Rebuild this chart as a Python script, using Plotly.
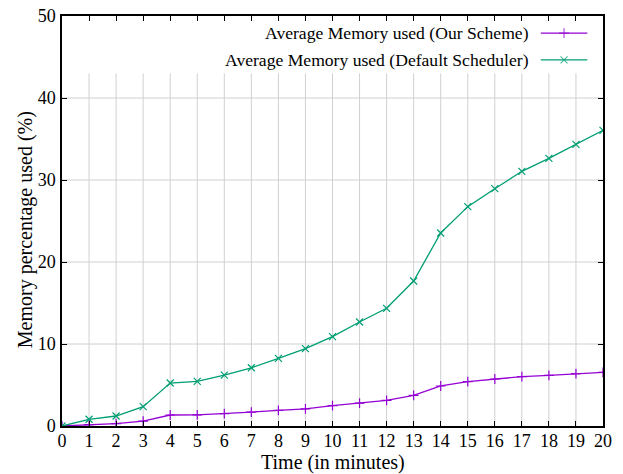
import plotly.graph_objects as go

# Elapsed time in minutes
minutes = list(range(0, 21))

# Average memory usage (%) for each scheduler
our_scheme = [0.0, 0.16, 0.3, 0.6, 1.34, 1.35, 1.5, 1.7, 1.9, 2.1, 2.48,
              2.8, 3.13, 3.74, 4.88, 5.41, 5.73, 6.02, 6.18, 6.38, 6.54]
default_scheduler = [0.0, 0.82, 1.22, 2.36, 5.24, 5.45, 6.2, 7.1, 8.25, 9.43, 10.9,
                     12.68, 14.35, 17.68, 23.54, 26.75, 28.94, 31.06, 32.64, 34.35, 36.06]

series_names = ["Average Memory used (Our Scheme)",
                "Average Memory used (Default Scheduler)"]

y_ticks = [0, 10, 20, 30, 40, 50]

PURPLE = "#9400d3"
TEAL = "#009e73"
GRID = "#d0d0d0"
FONT = "Liberation Serif"
KEY_BOTTOM = 43.0  # grid stops below the key area

fig = go.Figure()

fig.add_trace(go.Scatter(
    x=minutes, y=our_scheme, mode="lines+markers", name=series_names[0],
    line=dict(color=PURPLE, width=1.3),
    marker=dict(symbol="cross-thin", size=7, line=dict(color=PURPLE, width=1.2)),
    showlegend=False,
))
fig.add_trace(go.Scatter(
    x=minutes, y=default_scheduler, mode="lines+markers", name=series_names[1],
    line=dict(color=TEAL, width=1.3),
    marker=dict(symbol="x-thin", size=7, line=dict(color=TEAL, width=1.2)),
    showlegend=False,
))

# Key drawn in plot-fraction coordinates on an overlay axis pair
key_rows = [(0.958, PURPLE, "cross-thin"), (0.893, TEAL, "x-thin")]
for (ky, col, sym), label in zip(key_rows, series_names):
    fig.add_trace(go.Scatter(
        x=[0.885, 0.928, 0.971], y=[ky, ky, ky], xaxis="x2", yaxis="y2",
        mode="lines+markers", line=dict(color=col, width=1.3),
        marker=dict(symbol=sym, size=[0, 7, 0], line=dict(color=col, width=1.2)),
        showlegend=False, hoverinfo="skip",
    ))
    fig.add_annotation(
        x=0.866, y=ky, xref="x2", yref="y2", text=label, showarrow=False,
        xanchor="right", yanchor="middle",
        font=dict(family=FONT, size=17.6, color="black"),
    )

# Axis titles
fig.add_annotation(x=0.5, y=-0.088, xref="paper", yref="paper", yanchor="middle",
                   text="Time (in minutes)", showarrow=False,
                   font=dict(family=FONT, size=20, color="black"))
fig.add_annotation(x=-0.068, y=0.478, xref="paper", yref="paper", xanchor="center",
                   text="Memory percentage used (%)", showarrow=False, textangle=-90,
                   font=dict(family=FONT, size=20, color="black"))

# Grid lines, the vertical ones stopping under the key
for xv in minutes[1:-1]:
    fig.add_shape(type="line", xref="x", yref="y", x0=xv, x1=xv, y0=0, y1=KEY_BOTTOM,
                  line=dict(color=GRID, width=1), layer="below")
for yv in y_ticks[1:-1]:
    fig.add_shape(type="line", xref="x domain", yref="y", x0=0, x1=1, y0=yv, y1=yv,
                  line=dict(color=GRID, width=1), layer="below")

axis_common = dict(
    showline=True, linecolor="black", linewidth=1.5, mirror="ticks",
    ticks="inside", ticklen=5, tickcolor="black", tickwidth=1,
    showgrid=False, zeroline=False, automargin=False,
    tickfont=dict(family=FONT, size=18, color="black"),
)

fig.update_layout(
    width=623, height=474,
    margin=dict(l=62, r=20, t=16, b=48),
    paper_bgcolor="white", plot_bgcolor="white",
    xaxis=dict(range=[0, 20], tickmode="array", tickvals=minutes,
               ticklabelstandoff=-2, **axis_common),
    yaxis=dict(range=[0, 50], tickmode="array", tickvals=y_ticks,
               ticklabelstandoff=1, **axis_common),
    xaxis2=dict(overlaying="x", range=[0, 1], visible=False),
    yaxis2=dict(overlaying="y", range=[0, 1], visible=False),
)

fig.write_html("out.html")
